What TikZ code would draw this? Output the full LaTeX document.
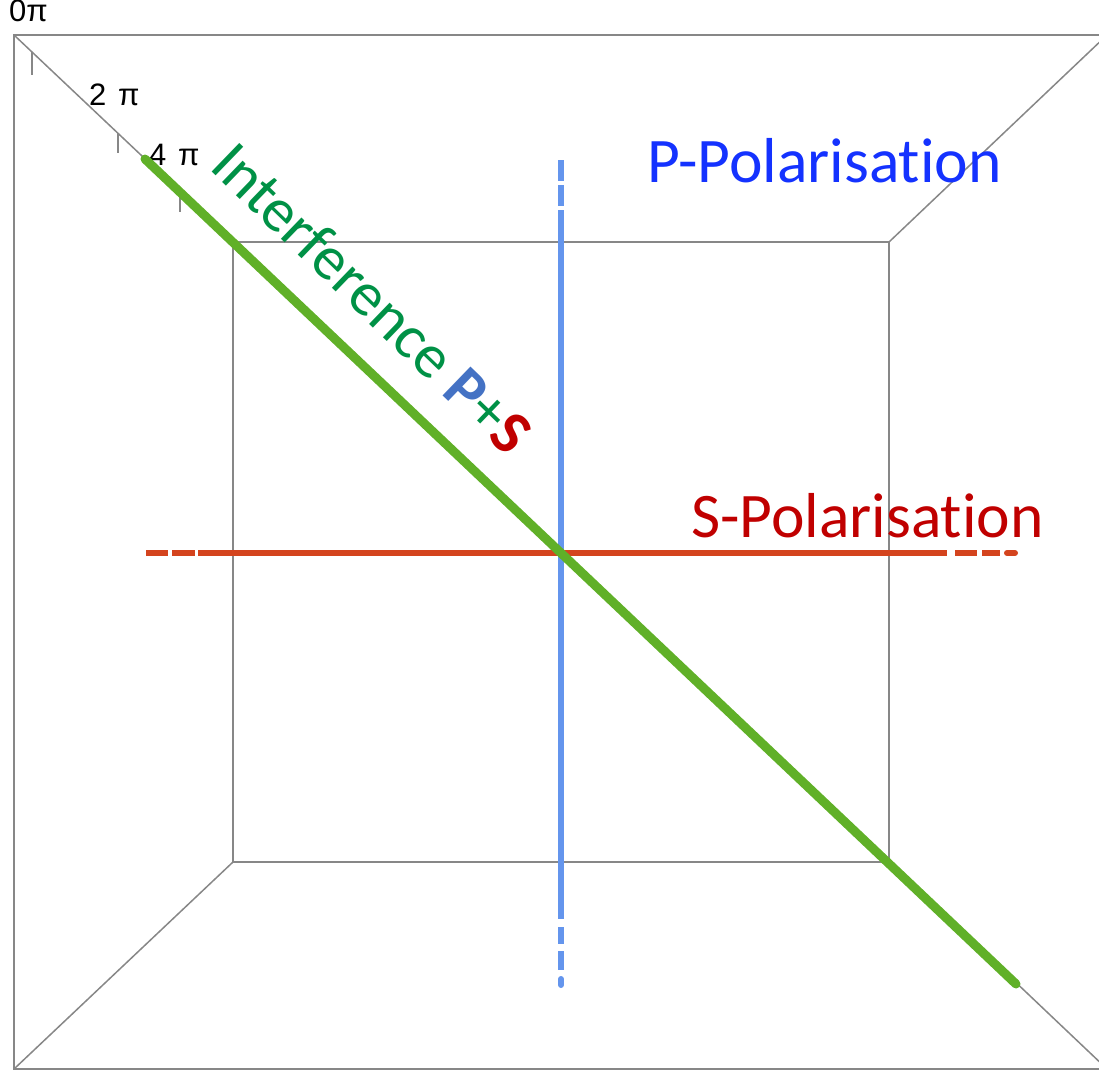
\documentclass[tikz,border=0pt]{standalone}
\usepackage{fontspec}
\setmainfont{Carlito}[Ligatures={NoCommon}]
\newfontfamily\axfont{Liberation Sans}
\definecolor{framegray}{RGB}{135,135,135}
\definecolor{pblue}{RGB}{100,149,237}
\definecolor{sred}{RGB}{212,68,30}
\definecolor{igreen}{RGB}{96,176,40}
\definecolor{ptext}{RGB}{20,50,255}
\definecolor{stext}{RGB}{192,0,0}
\definecolor{gtext}{RGB}{0,145,70}
\definecolor{pbold}{RGB}{68,114,196}
\begin{document}
\begin{tikzpicture}[x=1pt,y=-1pt,
  frameline/.style={draw=framegray, line width=1.5pt},
  tickline/.style={draw=framegray, line width=1.5pt},
  ticklabel/.style={font=\axfont\fontsize{31}{34}\selectfont, inner sep=0pt, text=black, anchor=base west},
  pline/.style={draw=pblue, line width=6pt, line cap=butt},
  sline/.style={draw=sred, line width=6pt, line cap=butt},
  iline/.style={draw=igreen, line width=9pt, line cap=round},
  bigtext/.style={font=\fontsize{63.5}{70}\selectfont, inner sep=0pt},
  diagtext/.style={font=\fontsize{62}{70}\selectfont, inner sep=0pt}]
\useasboundingbox (0,0) rectangle (1099,1071);
\clip (0,0) rectangle (1099,1071);
% outer box
\draw[frameline] (1107,35) -- (14,35) -- (14,1069) -- (1107,1069);
% inner box
\draw[frameline] (233,242) rectangle (889,862);
% corner diagonals
\draw[frameline] (14,35) -- (233,242);
\draw[frameline] (889,242) -- (1107,35);
\draw[frameline] (14,1069) -- (233,862);
\draw[frameline] (889,862) -- (1107,1069);
% ticks
\draw[tickline] (32,52) -- (32,75);
\draw[tickline] (118,133) -- (118,153);
\draw[tickline] (180,192) -- (180,212);
\node[ticklabel] (l0) at (9,21) {0π};
\node[ticklabel] (l2) at (89,105) {2 \kern3pt π};
\node[ticklabel] (l4) at (149,165) {4 \kern3pt π};
% P line (blue, vertical)
\draw[pline] (561,160) -- (561,181);
\draw[pline] (561,185) -- (561,206);
\draw[pline] (561,210) -- (561,919);
\draw[pline] (561,927) -- (561,944);
\draw[pline] (561,951) -- (561,970);
\draw[pline, line cap=round] (561,979) -- (561,985);
% S line (red, horizontal)
\draw[sline] (146,553) -- (168,553);
\draw[sline] (172,553) -- (195,553);
\draw[sline] (198,553) -- (947,553);
\draw[sline] (955,553) -- (977,553);
\draw[sline] (982,553) -- (1000,553);
\draw[sline, line cap=round] (1007,553) -- (1015,553);
% interference line (green, diagonal)
\draw[iline] (145,159) -- (1016,984);
% labels
\node[bigtext, text=ptext, anchor=base west] (ptitle) at (647,182) {P-Polarisation};
\node[bigtext, text=stext, anchor=base west] (stitle) at (691,537) {S-Polarisation};
\node[diagtext, anchor=base, rotate=-44] (ititle) at (358,313)
  {\textcolor{gtext}{Interference} \textcolor{pbold}{\textbf{P}}\textcolor{gtext}{+}\textcolor{stext}{\textbf{S}}};
\end{tikzpicture}
\end{document}
